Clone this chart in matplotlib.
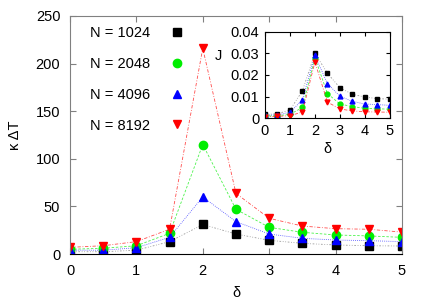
import matplotlib
matplotlib.use("Agg")
import matplotlib.pyplot as plt

plt.rcParams['font.family'] = ['Liberation Sans', 'DejaVu Sans']
plt.rcParams['font.size'] = 10.5

delta = [0, 0.5, 1, 1.5, 2, 2.5, 3, 3.5, 4, 4.5, 5]
labels = ["N = 1024", "N = 2048", "N = 4096", "N = 8192"]

# kappa * Delta T
kdt_1024 = [2.4, 2.4, 4, 13, 31, 21, 14.4, 11.2, 9.5, 8.7, 8.4]
kdt_2048 = [5, 6, 8.7, 21.7, 115, 47, 28, 22.8, 20, 19, 17.5]
kdt_4096 = [4, 4, 6.6, 17.5, 60, 34, 21, 16.5, 14.7, 14, 13]
kdt_8192 = [7, 8.7, 13, 26, 216, 63.7, 37.5, 29.4, 26.6, 26, 23]

# current J
j_1024 = [0.0018, 0.0021, 0.0038, 0.0127, 0.030, 0.0208, 0.0141, 0.0111, 0.0098, 0.0091, 0.0088]
j_2048 = [0.0010, 0.0012, 0.0018, 0.0050, 0.028, 0.0114, 0.0066, 0.0054, 0.0046, 0.0044, 0.0042]
j_4096 = [0.0015, 0.0015, 0.0028, 0.0085, 0.029, 0.0160, 0.0102, 0.0078, 0.0066, 0.0063, 0.0060]
j_8192 = [0.0008, 0.0009, 0.0012, 0.0029, 0.026, 0.0075, 0.0043, 0.0034, 0.0030, 0.0029, 0.0028]

styles = [
    dict(color="black", marker="s", ls=(0, (2, 2, 1, 2, 1, 2)), lc="#707070"),
    dict(color="#00ee00", marker="o", ls=(0, (3, 2)), lc="#00ee00"),
    dict(color="#0000ff", marker="^", ls=(0, (1, 1.5)), lc="#0000ff"),
    dict(color="#ff0000", marker="v", ls=(0, (4, 2, 1, 2)), lc="#ff0000"),
]

fig = plt.figure(figsize=(4.28, 3.0), dpi=100)
ax = fig.add_axes([0.1636, 0.1533, 0.7754, 0.7934])

for ys, lab, st in zip([kdt_1024, kdt_2048, kdt_4096, kdt_8192], labels, styles):
    ax.plot(delta, ys, ls=st["ls"], color=st["lc"], lw=0.6, alpha=0.7)
    ax.plot(delta, ys, ls="none", marker=st["marker"], color=st["color"],
            ms=6, label=lab)

ax.set_xlim(0, 5)
ax.set_ylim(0, 250)
ax.set_xticks([0, 1, 2, 3, 4, 5])
ax.set_yticks([0, 50, 100, 150, 200, 250])
ax.tick_params(direction="in", top=True, right=True, length=4, pad=7,
               color="#808080")
for s in ["left", "top", "right"]:
    ax.spines[s].set_color("#808080")
ax.spines["bottom"].set_color("black")
ax.set_xlabel("δ", labelpad=6)
ax.set_ylabel("κ ΔT", labelpad=10)

leg = ax.legend(loc="upper left", bbox_to_anchor=(0.03, 1.0), frameon=False,
                markerfirst=False, handlelength=1.0, handletextpad=1.3,
                labelspacing=1.15, borderaxespad=0.3)

ins = fig.add_axes([0.619, 0.6057, 0.292, 0.2887])
for ys, st in zip([j_1024, j_2048, j_4096, j_8192], styles):
    ins.plot(delta, ys, ls=st["ls"], color=st["lc"], lw=0.6, alpha=0.7)
    ins.plot(delta, ys, ls="none", marker=st["marker"], color=st["color"], ms=3.5)

ins.set_xlim(0, 5)
ins.set_ylim(0, 0.04)
ins.set_xticks([0, 1, 2, 3, 4, 5])
ins.set_yticks([0, 0.01, 0.02, 0.03, 0.04])
ins.set_yticklabels(["0", "0.01", "0.02", "0.03", "0.04"])
ins.tick_params(direction="in", top=True, right=True, length=3, pad=4)
ins.set_xlabel("δ", labelpad=3)
ins.set_ylabel("J", rotation=0)
ins.yaxis.set_label_coords(-0.376, 0.64)

fig.savefig("out.png", dpi=100)
